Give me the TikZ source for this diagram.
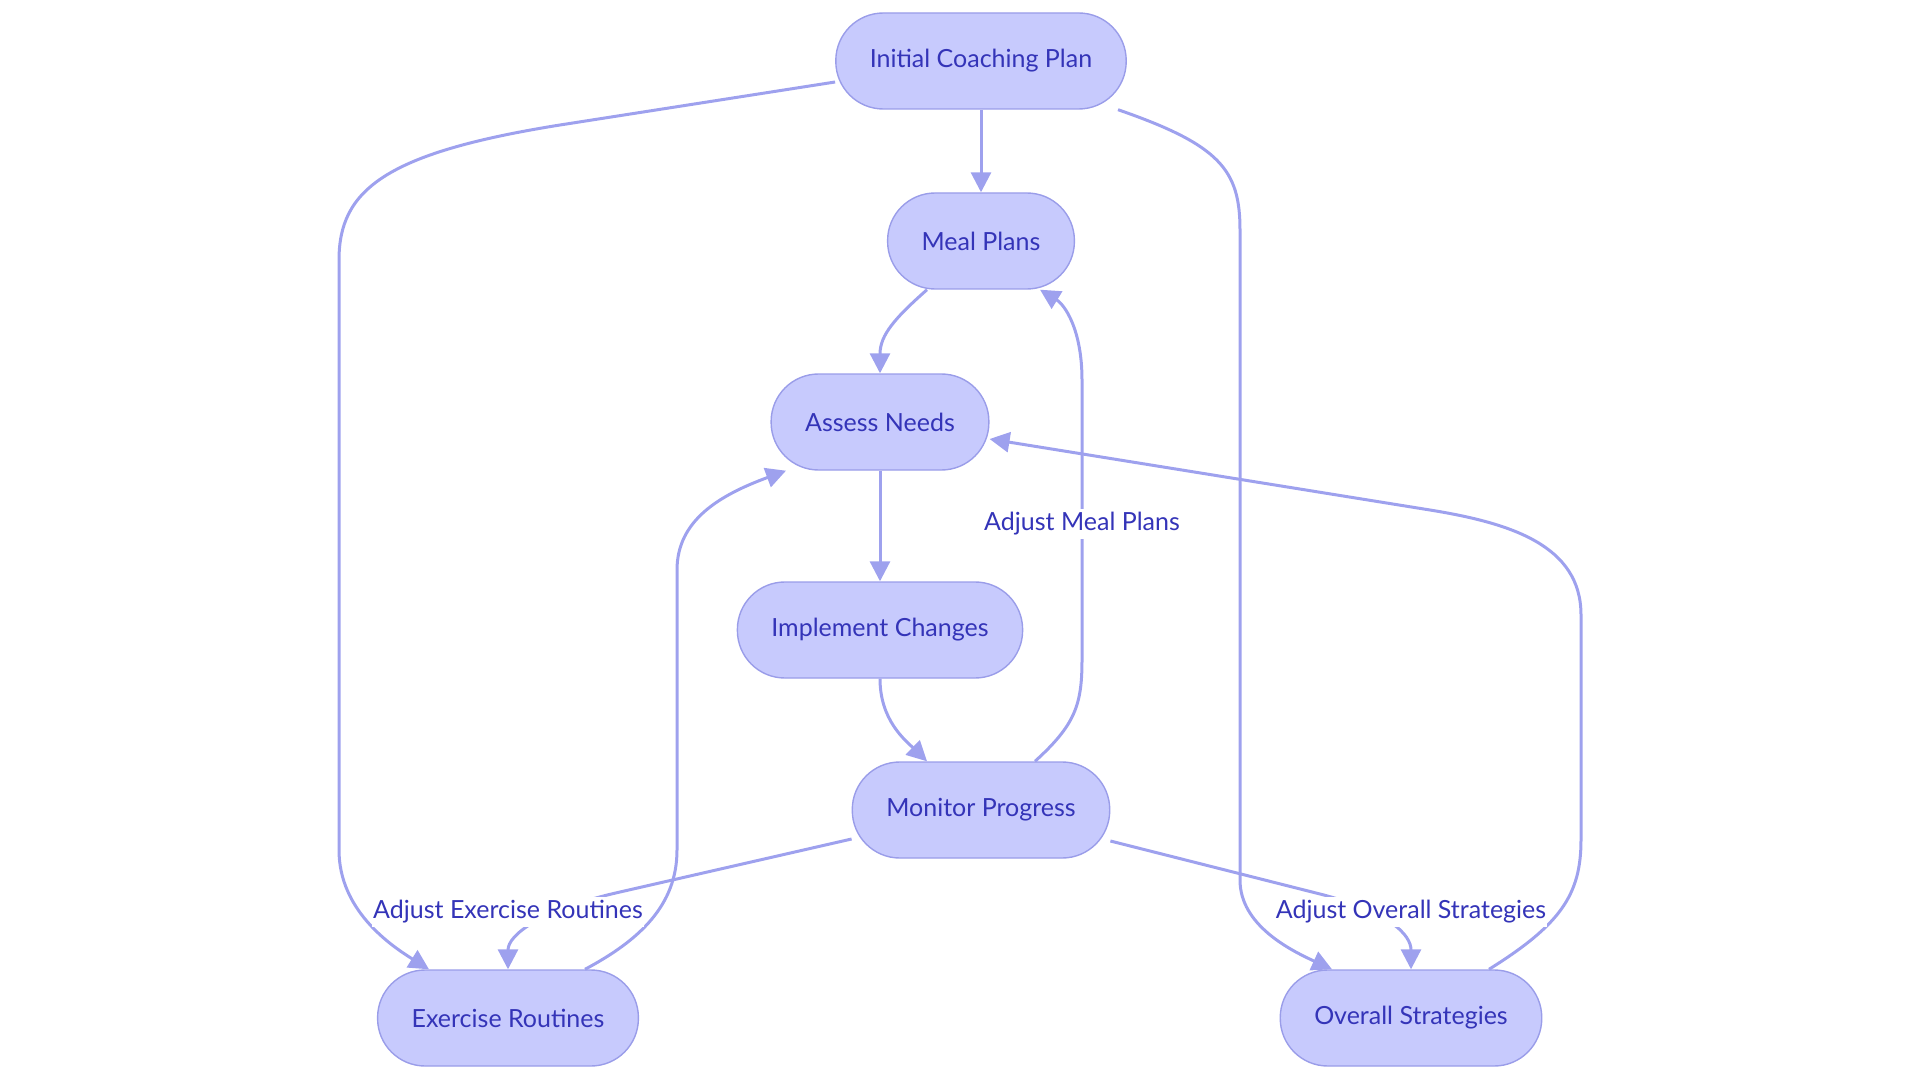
\documentclass[tikz,border=0pt]{standalone}
\usepackage{fontspec}
\setmainfont{Lato}
\usetikzlibrary{arrows.meta}

\definecolor{nodefill}{HTML}{C7CAFD}
\definecolor{nodeline}{HTML}{9A9DE9}
\definecolor{flowline}{HTML}{9EA1EE}
\definecolor{labeltext}{HTML}{3434B8}

\begin{document}
\begin{tikzpicture}[x=1pt, y=-1pt,
    stage/.style={rectangle, rounded corners=47.5pt, draw=nodeline, line width=1.4pt, fill=nodefill, text=labeltext, minimum height=96pt, inner xsep=34pt, font=\fontsize{25}{29}\selectfont},
    edgelabel/.style={fill=white, text=labeltext, inner xsep=1pt, inner ysep=4pt, font=\fontsize{25}{29}\selectfont},
    flow/.style={-{Triangle[length=20pt,width=20pt]}, line width=3pt, draw=flowline}
]
\useasboundingbox (0,0) rectangle (1920,1083);

% Stages
\node[stage] (init) at (981,61) {Initial Coaching Plan};
\node[stage] (meal) at (981,241) {Meal Plans};
\node[stage] (assess) at (880,422) {Assess Needs};
\node[stage] (impl) at (880,630) {Implement Changes};
\node[stage] (monitor) at (981,810) {Monitor Progress};
\node[stage] (exer) at (508,1018) {Exercise Routines};
\node[stage] (overall) at (1411,1018) {Overall Strategies};

% Flows
\draw[flow] (init) -- (meal);
\draw[flow] ([yshift=-21pt]init.west) -- (560,125) .. controls (385,153) and (339,190) .. (339,260) -- (339,850) .. controls (339,910) and (390,945) .. ([xshift=-79pt]exer.north);
\draw[flow] ([xshift=137pt]init.south) .. controls (1220,145) and (1240,170) .. (1240,230) -- (1240,880) .. controls (1240,925) and (1290,950) .. ([xshift=-79pt]overall.north);
\draw[flow] ([xshift=-54pt]meal.south) .. controls (895,318) and (880,335) .. (assess.north);
\draw[flow] (assess) -- (impl);
\draw[flow] (impl.south) .. controls (880,720) and (905,740) .. ([xshift=-54pt]monitor.north);
\draw[flow] ([xshift=54pt]monitor.north) .. controls (1075,725) and (1082,705) .. (1082,660) -- (1082,380) .. controls (1082,330) and (1065,305) .. ([xshift=59pt]meal.south);
\draw[flow] ([yshift=-29pt]monitor.west) -- (620,892) .. controls (540,910) and (508,935) .. (exer.north);
\draw[flow] ([yshift=-31pt]monitor.east) -- (1320,894) .. controls (1390,912) and (1411,935) .. (overall.north);
\draw[flow] ([xshift=77pt]exer.north) .. controls (640,940) and (677,905) .. (677,850) -- (677,570) .. controls (677,520) and (720,495) .. ([xshift=-94pt]assess.south);
\draw[flow] ([xshift=78pt]overall.north) .. controls (1560,925) and (1581,895) .. (1581,840) -- (1581,615) .. controls (1581,545) and (1510,523) .. (1430,510) -- ([yshift=-17pt]assess.east);

% Edge labels
\node[edgelabel] (lmeal) at (1082,524) {Adjust Meal Plans};
\node[edgelabel] (lexer) at (508,912) {Adjust Exercise Routines};
\node[edgelabel] (loverall) at (1411,912) {Adjust Overall Strategies};

\end{tikzpicture}
\end{document}
